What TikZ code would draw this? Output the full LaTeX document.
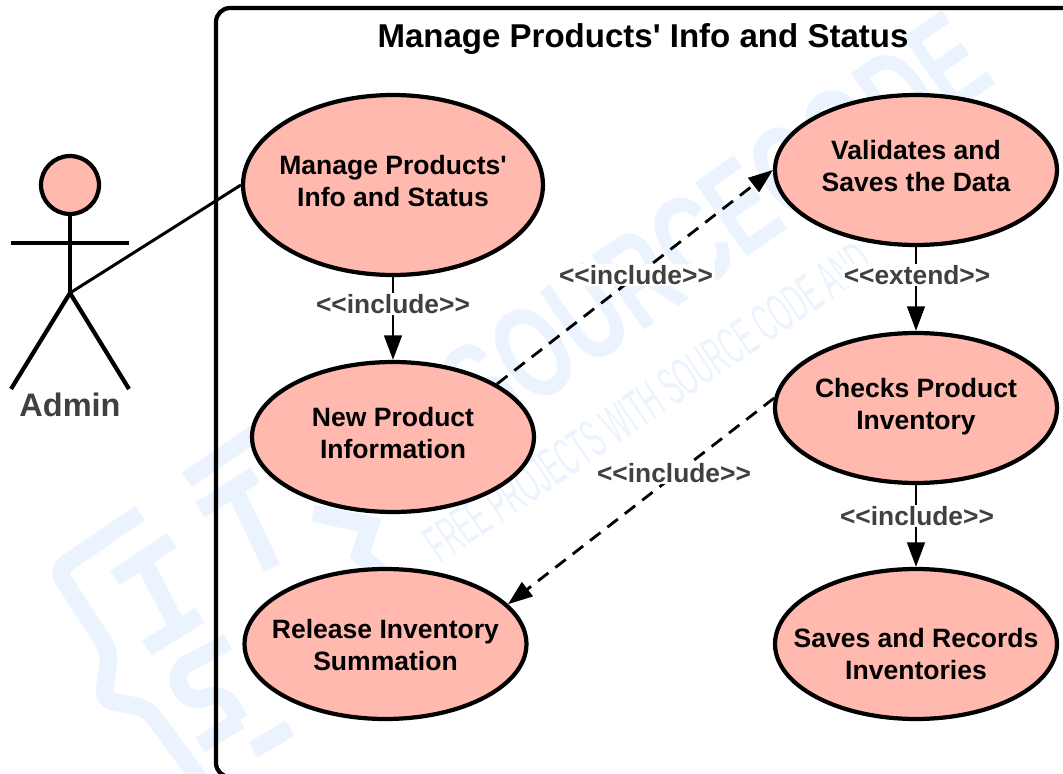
\documentclass[tikz,border=0pt]{standalone}
\usepackage{fontspec}
\setmainfont{Liberation Sans}
\usetikzlibrary{positioning, arrows.meta, shapes.geometric}
\definecolor{usefill}{HTML}{FFB9AE}
\definecolor{labelgray}{HTML}{404040}
\definecolor{markblue}{HTML}{EAF3FE}
\tikzset{
    usecase/.style={ellipse, draw=black, line width=2.4pt, fill=usefill, align=center, inner xsep=-0.8cm, inner ysep=0pt,
        minimum width=5.64cm, minimum height=3cm, text height=29pt, text depth=4pt, font=\bfseries\fontsize{15.1}{18.2}\selectfont},
    rellabel/.style={fill=white, inner sep=1pt, text=labelgray, font=\bfseries\fontsize{15}{18}\selectfont},
    incl/.style={line width=1.6pt, -{Triangle[length=14pt,width=10pt]}},
    incldash/.style={incl, dash pattern=on 7.5pt off 5pt},
    limb/.style={line width=2.4pt, black},
    markline/.style={line width=10pt, markblue}
}
\begin{document}
\begin{tikzpicture}[x=0.02cm, y=-0.02cm]
    \useasboundingbox (0,0) rectangle (1063,774);
    % watermark
    \draw [markline, rounded corners=6pt] (140,513) -- (57,570) -- (110,652) -- (103,700) -- (147,708) -- (200,780);
    \draw [markline] (115,578) -- (172,540);
    \draw [markline] (143,560) -- (175,622);
    \draw [markline] (147,648) -- (200,615);
    \draw [markline] (187,480) -- (255,433);
    \draw [markline] (200,510) -- (255,475);
    \draw [markline] (235,490) -- (272,568);
    \draw [markline] (313,513) -- (370,525) -- (360,555) -- (380,572);
    \draw [markline, rounded corners=10pt] (228,642) -- (172,672) -- (190,705) -- (222,690) -- (240,720);
    \draw [markline] (200,745) -- (240,720);
    \draw [markline] (253,750) -- (290,728);
    \node [rotate=35, yscale=1.5, text=markblue, font=\bfseries\fontsize{50}{50}\selectfont] (marktitle) at (715,225) {SOURCECODE};
    \node [rotate=34, text=markblue, yscale=1.9, xscale=0.88, font=\fontsize{16}{16}\selectfont] (marksub) at (648,402) {FREE PROJECTS WITH SOURCE CODE AND};
    % system frame
    \draw [line width=2.4pt, rounded corners=8pt] (216,777) rectangle (1090,8);
    \node [font=\bfseries\fontsize{18.8}{22}\selectfont] (title) at (643,39) {Manage Products\textquotesingle{} Info and Status};
    % use cases
    \node [usecase, minimum width=6cm, minimum height=3.6cm] (manage) at (393,185) {Manage Products\textquotesingle\\Info and Status};
    \node [usecase] (newinfo) at (393,437) {New Product\\Information};
    \node [usecase, text height=33.6pt] (release) at (385.5,644) {Release Inventory\\Summation};
    \node [usecase] (validates) at (916,170) {Validates and\\Saves the Data};
    \node [usecase] (checks) at (916,408) {Checks Product\\Inventory};
    \node [usecase, text height=44pt] (saves) at (916,644) {Saves and Records\\Inventories};
    % actor
    \node [circle, draw=black, line width=2.4pt, fill=usefill, minimum size=1.16cm, inner sep=0pt] (adminhead) at (70,185) {};
    \coordinate (hip) at (70,293);
    \coordinate (armleft) at (11,243);
    \coordinate (armright) at (129,243);
    \coordinate (footleft) at (11,389);
    \coordinate (footright) at (129,389);
    \draw [limb] (adminhead) -- (hip);
    \draw [limb] (armleft) -- (armright);
    \draw [limb] (footleft) -- (hip) -- (footright);
    \node [text=labelgray, font=\bfseries\fontsize{18.5}{22}\selectfont] (admin) at (70,405) {Admin};
    \draw [line width=1.7pt] (hip) -- (manage.west);
    % connectors
    \draw [incl] (manage) -- (newinfo);
    \draw [incldash] (newinfo.27) -- (validates.west);
    \draw [incl] (validates) -- (checks);
    \draw [incldash] (checks.176) -- (release.18);
    \draw [incl] (checks) -- (saves);
    % labels on the connectors
    \node [rellabel] (inclA) at (393,304) {<{}<include>{}>};
    \node [rellabel] (inclB) at (636,275) {<{}<include>{}>};
    \node [rellabel] (extA) at (917,275) {<{}<extend>{}>};
    \node [rellabel] (inclC) at (674,473) {<{}<include>{}>};
    \node [rellabel] (inclD) at (917,516) {<{}<include>{}>};
\end{tikzpicture}
\end{document}
